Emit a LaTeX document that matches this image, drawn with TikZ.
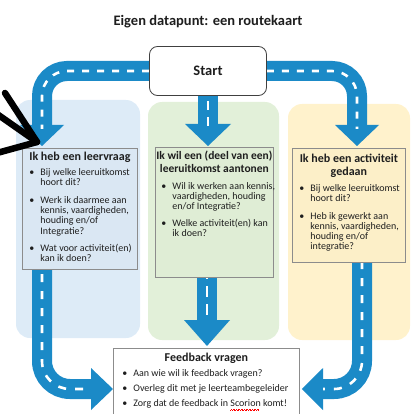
\documentclass[tikz,border=0pt]{standalone}
\usepackage{fontspec}
\setmainfont{Carlito}
\usepackage{enumitem}

\definecolor{wegblauw}{HTML}{1B8AC7}
\definecolor{paneelblauw}{HTML}{DDEBF7}
\definecolor{paneelgroen}{HTML}{E2F0D9}
\definecolor{paneelgeel}{HTML}{FFF2CC}
\definecolor{vakblauw}{HTML}{DAE7F3}
\definecolor{vakgroen}{HTML}{DFEDD5}
\definecolor{vakgeel}{HTML}{FCEFC8}
\definecolor{randgrijs}{HTML}{8C8C8C}
\definecolor{inkt}{HTML}{1E1E1E}

\newcommand{\titelmaat}{\fontsize{14.5}{17}\selectfont\bfseries}
\newcommand{\kopmaat}{\fontsize{12}{12.8}\selectfont\bfseries}
\newcommand{\tekstmaat}{\fontsize{10}{10.2}\selectfont}
\newcommand{\kopregel}[1]{\makebox[\linewidth]{#1}}
\newcommand{\vasteregel}[1]{\makebox[0pt][l]{#1}}

% rode golflijn onder een woord (spellingcontrole)
\newsavebox{\golfdoos}
\newcommand{\rodegolf}[1]{\sbox{\golfdoos}{#1}%
  \rlap{\hbox to \wd\golfdoos{\color{red}\leaders\hbox{\rule[-3.6pt]{0.8pt}{0.45pt}\rule[-3.0pt]{0.8pt}{0.45pt}}\hfill}}#1}

\setlist[itemize]{label=\textbullet, align=left, leftmargin=18pt, labelwidth=5pt,
  labelsep=6pt, itemsep=7.5pt, parsep=0pt, topsep=5pt, partopsep=0pt}

\pgfdeclarelayer{vlakken}
\pgfdeclarelayer{wegen}
\pgfsetlayers{vlakken,wegen,main}

\tikzset{
  vak/.style={draw=randgrijs, line width=0.8pt, anchor=north west, inner sep=0pt, text=inkt},
  startvak/.style={draw=inkt!85, fill=white, rounded corners=8pt, line width=0.8pt,
    minimum width=117pt, minimum height=49pt, font=\titelmaat, text=inkt},
  weg/.style={draw=wegblauw, line width=20pt, rounded corners=25pt},
  strepen/.style={draw=white, line width=2.6pt, dash pattern=on 7pt off 8pt, rounded corners=25pt},
  kraslijn/.style={draw=black, line width=6.5pt, line cap=round},
}

\begin{document}
\begin{tikzpicture}[x=1pt,y=-1pt]
  \useasboundingbox (0,0) rectangle (417,414);

  \node (titel) at (208,26) [anchor=base, font=\titelmaat, text=inkt] {Eigen datapunt: een routekaart};
  \node (start) at (208,71) [startvak] {Start};

  \node (leervraag) at (22,148) [vak, fill=vakblauw] {\begin{minipage}[t][121pt][t]{115pt}
    \vspace*{3.5pt}
    {\kopmaat\kopregel{Ik heb een leervraag}\par}
    \tekstmaat\raggedright
    \begin{itemize}
      \item Bij welke leeruitkomst\\ hoort dit?
      \item Werk ik daarmee aan\\ kennis, vaardigheden,\\ houding en/of\\ Integratie?
      \item Wat voor activiteit(en)\\ kan ik doen?
    \end{itemize}
  \end{minipage}};

  \node (aantonen) at (155,147) [vak, fill=vakgroen] {\begin{minipage}[t][130pt][t]{118pt}
    \vspace*{4pt}
    {\kopmaat\fontsize{11.5}{12.8}\selectfont\kopregel{Ik wil een (deel van een)}\\ \kopregel{leeruitkomst aantonen}\par}
    \tekstmaat\raggedright
    \begin{itemize}[leftmargin=17pt, topsep=6.5pt, itemsep=6.5pt]
      \item \vasteregel{Wil ik werken aan kennis,}\\ \vasteregel{vaardigheden, houding}\\ en/of Integratie?
      \item \vasteregel{Welke activiteit(en) kan}\\ ik doen?
    \end{itemize}
  \end{minipage}};

  \node (gedaan) at (292,148) [vak, fill=vakgeel] {\begin{minipage}[t][114pt][t]{113pt}
    \vspace*{5.5pt}
    {\kopmaat\kopregel{Ik heb een activiteit}\\ \kopregel{gedaan}\par}
    \tekstmaat\raggedright
    \begin{itemize}[topsep=6pt]
      \item Bij welke leeruitkomst\\ hoort dit?
      \item Heb ik gewerkt aan\\ kennis, vaardigheden,\\ houding en/of\\ integratie?
    \end{itemize}
  \end{minipage}};

  \node (feedback) at (113,348) [vak, fill=white] {\begin{minipage}[t][80pt][t]{186pt}
    \vspace*{5pt}
    {\kopmaat\kopregel{Feedback vragen}\par}
    \tekstmaat\raggedright
    \begin{itemize}[leftmargin=20pt, itemsep=5pt, topsep=4pt]
      \item Aan wie wil ik feedback vragen?
      \item Overleg dit met je leerteambegeleider
      \item Zorg dat de feedback in \rodegolf{Scorion} komt!
    \end{itemize}
  \end{minipage}};

  \begin{pgfonlayer}{vlakken}
    \fill[paneelblauw, rounded corners=14pt] (16,100) rectangle (140,338);
    \fill[paneelgroen, rounded corners=14pt] (148,102) rectangle (279,340);
    \fill[paneelgeel, rounded corners=14pt] (288,104) rectangle (410,340);
  \end{pgfonlayer}

  \begin{pgfonlayer}{wegen}
    % van start naar de drie vakken
    \coordinate (basisL) at (42,125);
    \coordinate (pijlL) at (42,146);
    \draw[weg] (start.west) -| (basisL);
    \fill[wegblauw] ([xshift=-22pt]basisL) -- (pijlL) -- ([xshift=22pt]basisL) -- cycle;
    \draw[strepen, shorten >=-4pt] (start.west) -| (basisL);

    \coordinate (basisM) at (208,124);
    \coordinate (pijlM) at (208,146);
    \draw[weg] (start.south) -- (basisM);
    \fill[wegblauw] ([xshift=-23pt]basisM) -- (pijlM) -- ([xshift=23pt]basisM) -- cycle;
    \draw[strepen, dash pattern=on 9pt off 7pt, dash phase=-5pt, shorten >=-4pt] (start.south) -- (basisM);

    \coordinate (basisR) at (357,125);
    \coordinate (pijlR) at (357,146);
    \draw[weg] (start.east) -| (basisR);
    \fill[wegblauw] ([xshift=-22pt]basisR) -- (pijlR) -- ([xshift=22pt]basisR) -- cycle;
    \draw[strepen, shorten >=-4pt] (start.east) -| (basisR);

    % van de vakken naar feedback
    \coordinate (uitL) at (42,264);
    \coordinate (basisLO) at (91,389);
    \coordinate (pijlLO) at (feedback.north west |- basisLO);
    \draw[weg, rounded corners=28pt] (uitL) |- (basisLO);
    \fill[wegblauw] ([yshift=21pt]basisLO) -- (pijlLO) -- ([yshift=-21pt]basisLO) -- cycle;
    \draw[strepen, rounded corners=28pt, dash pattern=on 8pt off 9pt, dash phase=-10pt] (uitL) |- (basisLO);

    \coordinate (basisMO) at (207,320);
    \coordinate (uitM) at (aantonen.south -| basisMO);
    \coordinate (pijlMO) at ([yshift=2pt]feedback.north -| basisMO);
    \draw[weg] (uitM) -- (basisMO);
    \fill[wegblauw] ([xshift=-23pt]basisMO) -- (pijlMO) -- ([xshift=23pt]basisMO) -- cycle;
    \draw[strepen, dash pattern=on 11pt off 7pt, dash phase=-8pt] (uitM) -- (basisMO);

    \coordinate (uitR) at (362,258);
    \coordinate (basisRO) at (323,389);
    \coordinate (pijlRO) at ([xshift=2pt]feedback.north east |- basisRO);
    \draw[weg, rounded corners=28pt] (uitR) |- (basisRO);
    \fill[wegblauw] ([yshift=21pt]basisRO) -- (pijlRO) -- ([yshift=-21pt]basisRO) -- cycle;
    \draw[strepen, rounded corners=28pt, dash pattern=on 8pt off 9pt, dash phase=-20pt] (uitR) |- (basisRO);
  \end{pgfonlayer}

  % zwarte krassen bij de eerste pijl
  \coordinate (kras) at (37,142);
  \coordinate (kras1) at (5,93);
  \coordinate (kras2) at (-3,114);
  \coordinate (kras3) at (-3,153);
  \draw[kraslijn] (kras1) -- (kras);
  \draw[kraslijn] (kras2) -- (kras);
  \draw[kraslijn] (kras3) -- (kras);

\end{tikzpicture}
\end{document}
